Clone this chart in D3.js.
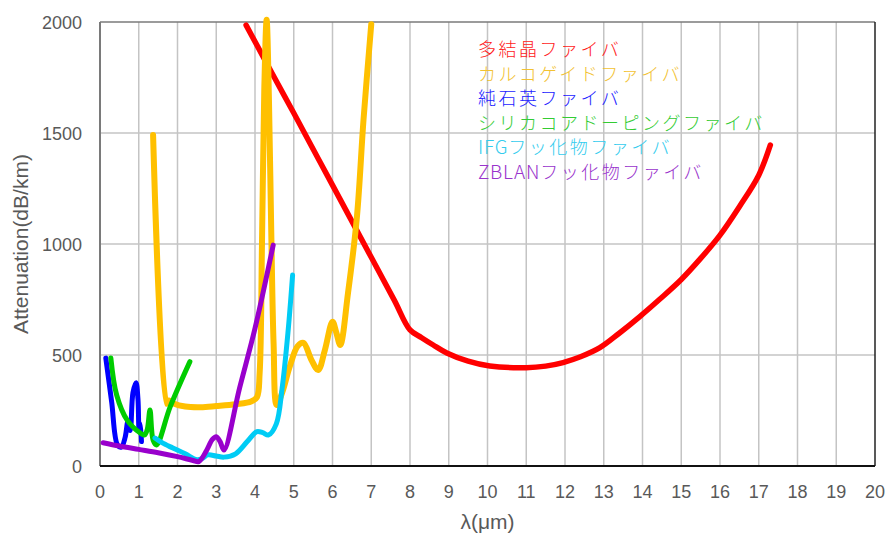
<!DOCTYPE html>
<html>
<head>
<meta charset="utf-8">
<script src="https://cdn.jsdelivr.net/npm/d3@7"></script>
<style>
  body { margin: 0; background: #fff; }
  svg text { font-family: "Liberation Sans", Arial, sans-serif; }
  .tick-label { fill: #595959; font-size: 18px; }
  .axis-title { fill: #595959; font-size: 21px; }
  .legend-label { font-family: "Noto Sans CJK JP", sans-serif; font-size: 18px; letter-spacing: 2.5px; font-weight: 300; }
  .legend-label .latin { letter-spacing: 0.8px; font-size: 19px; }
</style>
</head>
<body>
<svg width="886" height="539"></svg>
<script>
// series names (legend order)
const seriesNames = ["多結晶ファイバ", "カルコゲイドファイバ", "純石英ファイバ",
                     "シリカコアドーピングファイバ", "IFGフッ化物ファイバ", "ZBLANフッ化物ファイバ"]

const xTicks = d3.range(0, 21)
const yTicks = [0, 500, 1000, 1500, 2000]

// [λ (µm), attenuation (dB/km)]
const polyCrystal = [[3.77,1986],[4.5,1750],[5.0,1590],[6.0,1265],[7.0,940],[7.6,745],[8.0,613],
  [8.3,578],[8.6,545],[8.95,509],[9.5,472],[10.06,450],[11.0,443],[11.5,450],[11.95,466],
  [12.4,492],[12.9,533],[13.4,598],[13.93,673],[14.45,752],[15.0,840],[15.5,935],[16.0,1040],
  [16.5,1168],[17.0,1310],[17.3,1446]]

const chalcogenide = [[1.37,1491],[1.72,280],[1.78,295],[1.9,282],[2.2,268],[2.6,265],
  [3.0,270],[3.5,278],[3.9,290],[4.05,310],[4.12,420],[4.18,1000],[4.24,1700],[4.3,2010],
  [4.36,1650],[4.42,1050],[4.48,550],[4.56,275],[4.7,330],[4.9,450],[5.1,540],[5.25,555],
  [5.45,480],[5.63,432],[5.8,520],[6.0,650],[6.1,600],[6.2,545],[6.4,779],[6.63,1122],
  [6.8,1559],[7.0,1990]]

const pureSilica = [[0.15,486],[0.3,290],[0.45,95],[0.55,85],[0.65,130],[0.72,200],[0.78,160],
  [0.85,330],[0.93,375],[0.98,300],[1.01,160],[1.04,190],[1.07,110]]

const dopedSilica = [[0.28,487],[0.43,320],[0.7,207],[1.03,150],[1.15,140],[1.22,165],
  [1.29,252],[1.37,117],[1.46,95],[1.81,266],[2.32,470]]

const ifgFluoride = [[1.42,126],[1.6,105],[1.88,81],[2.2,55],[2.5,28],[2.65,35],[2.78,50],
  [3.0,45],[3.2,40],[3.5,55],[3.8,110],[4.05,155],[4.2,150],[4.35,140],[4.55,190],
  [4.7,350],[4.85,600],[4.97,860]]

const zblanFluoride = [[0.08,105],[0.5,90],[1.0,75],[1.5,60],[2.0,42],[2.4,25],[2.55,20],
  [2.75,70],[2.9,120],[3.0,132],[3.1,110],[3.2,72],[3.6,350],[4.0,620],[4.47,995]]

const seriesData = [polyCrystal, chalcogenide, pureSilica, dopedSilica, ifgFluoride, zblanFluoride]
const lineColors = ["#ff0000", "#ffc000", "#0000ff", "#00cc00", "#00ccf5", "#9900cc"]
const lineWidths = [5.5, 6, 5, 5, 5, 5]
const textColors = ["#ff1a1a", "#f2c232", "#2222ff", "#33cc33", "#33ccee", "#9933cc"]

const svg = d3.select("svg")
const margin = {left: 100, right: 11, top: 22, bottom: 73}
const width = +svg.attr("width"), height = +svg.attr("height")

const x = d3.scaleLinear().domain([0, 20]).range([margin.left, width - margin.right])
const y = d3.scaleLinear().domain([0, 2000]).range([height - margin.bottom, margin.top])

// grid
svg.append("g")
  .selectAll("line")
  .data(xTicks.slice(1, -1))
  .enter().append("line")
    .attr("x1", d => x(d)).attr("x2", d => x(d))
    .attr("y1", y(0)).attr("y2", y(2000))
    .attr("stroke", "#c4c4c4").attr("stroke-width", 1.5)

svg.append("g")
  .selectAll("line")
  .data(yTicks.slice(1, -1))
  .enter().append("line")
    .attr("x1", x(0)).attr("x2", x(20))
    .attr("y1", d => y(d)).attr("y2", d => y(d))
    .attr("stroke", "#c4c4c4").attr("stroke-width", 1.5)

// frame
svg.append("line").attr("x1", x(0)).attr("x2", x(20)).attr("y1", y(2000)).attr("y2", y(2000))
  .attr("stroke", "#7a7a7a").attr("stroke-width", 1.5)
svg.append("line").attr("x1", x(20)).attr("x2", x(20)).attr("y1", y(0)).attr("y2", y(2000))
  .attr("stroke", "#222").attr("stroke-width", 1.5)
svg.append("line").attr("x1", x(0)).attr("x2", x(0)).attr("y1", y(0)).attr("y2", y(2000))
  .attr("stroke", "#7a7a7a").attr("stroke-width", 2)
svg.append("line").attr("x1", x(0)).attr("x2", x(20)).attr("y1", y(0)).attr("y2", y(0))
  .attr("stroke", "#111").attr("stroke-width", 2)

// tick labels
svg.append("g")
  .selectAll("text")
  .data(xTicks)
  .enter().append("text")
    .attr("class", "tick-label")
    .attr("x", d => x(d))
    .attr("y", 498)
    .attr("text-anchor", "middle")
    .text(d => d)

svg.append("g")
  .selectAll("text")
  .data(yTicks)
  .enter().append("text")
    .attr("class", "tick-label")
    .attr("x", 82)
    .attr("y", d => y(d) + 6.5)
    .attr("text-anchor", "end")
    .text(d => d)

// axis titles
svg.append("text").attr("class", "axis-title")
  .attr("x", x(10)).attr("y", 529)
  .attr("text-anchor", "middle")
  .text("λ(μm)")

svg.append("text").attr("class", "axis-title")
  .attr("transform", `translate(28, ${y(1000)}) rotate(-90)`)
  .attr("text-anchor", "middle")
  .text("Attenuation(dB/km)")

// curves
const line = d3.line()
  .x(d => x(d[0]))
  .y(d => y(d[1]))
  .curve(d3.curveCatmullRom.alpha(0.5))

svg.append("g")
  .selectAll("path")
  .data(seriesData)
  .enter().append("path")
    .attr("d", line)
    .attr("fill", "none")
    .attr("stroke", (d, i) => lineColors[i])
    .attr("stroke-width", (d, i) => lineWidths[i])
    .attr("stroke-linejoin", "round")
    .attr("stroke-linecap", "round")

// legend: latin prefix (IFG, ZBLAN) gets its own tspan so it isn't spread out
let legend = svg.append("g")
  .selectAll("text")
  .data(seriesNames)
  .enter().append("text")
    .attr("class", "legend-label")
    .attr("x", 478)
    .attr("y", (d, i) => 56 + i * 24.5)
    .attr("fill", (d, i) => textColors[i])

legend.each(function (d) {
  let m = d.match(/^([A-Za-z]*)(.*)$/)
  let text = d3.select(this)
  if (m[1]) text.append("tspan").attr("class", "latin").text(m[1])
  text.append("tspan").text(m[2])
})
</script>
</body>
</html>
